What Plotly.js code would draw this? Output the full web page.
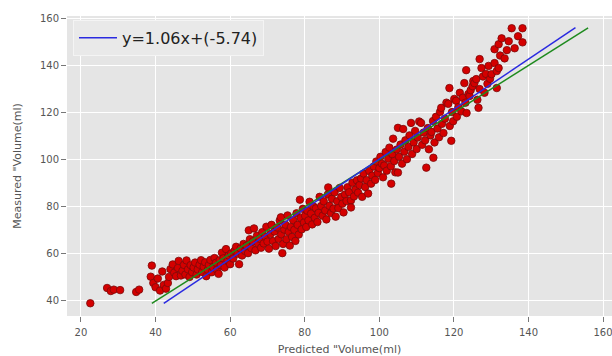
<!DOCTYPE html>
<html>
<head>
<meta charset="utf-8">
<script src="https://cdn.plot.ly/plotly-3.0.1.min.js"></script>
<style>html,body{margin:0;padding:0;background:#fff;}#chart{width:612px;height:356px;}</style>
</head>
<body>
<div id="chart"></div>
<script>
// Predicted volume (x) and measured volume (y)
const predicted = [
 22.5,27,28,28.8,30.5,34.8,35.6,
 39,38.7,39.4,40,40.6,41.2,42.2,42.8,43.3,41.8,43.6,44,
 44.6,45,45.5,46,46.2,46.8,47.2,47.6,48,48.3,48.7,49.1,49.4,49.8,50.2,50.6,51,51.3,51.8,52.2,52.5,52.9,53.3,53.6,54,54.3,54.7,55.1,55.4,55.8,56.2,56.5,56.9,57.2,57.5,57.8,58.2,58.5,58.9,59.3,59.6,60,
 60.3,60.8,61.2,61.6,62,62.4,62.8,63.2,63.6,64,64.4,64.8,65,65.3,65.7,66.1,66.4,66.8,67.2,67.5,67.9,68.3,68.6,69,69.4,69.7,70,
 70.4,70.8,71.1,71.5,71.9,72.2,72.6,73,73.3,73.6,73.7,74,74.2,74.5,74.8,75.1,75.4,75.7,76,76.3,76.6,76.9,77.2,77.5,77.8,78.1,78.4,78.7,78.9,79.2,79.5,79.8,80.1,80.4,
 80.7,81,81.3,81.7,82,82.3,82.7,83,83.4,83.7,84,84.4,84.8,85.1,85.5,85.8,86.2,86.3,86.6,87,87.3,87.7,88,88.3,88.7,89,89.4,89.8,90.1,90.4,
 90.8,91.2,91.5,91.9,92.4,92.4,92.8,93.2,93.6,94,94.3,94.7,95.1,95.4,95.8,96.2,96.6,97,97.3,97.8,98.1,98.5,98.9,99.2,99.6,100,100.3,
 100.7,101,101.3,101.7,102,102.4,102.7,103.1,103.2,103.5,103.7,104,104.3,104.7,105,105,105.3,105.7,106.1,106.4,106.7,107,107.4,107.8,108.1,108.5,108.8,109.2,109.6,110,110.3,
 110.7,111.2,111.5,111.9,112.3,112.6,113,113.3,113.7,114,114.4,114.5,114.8,115.2,115.6,116,116.3,116.6,116.8,117.2,117.6,118,118.5,118.8,118.9,119.3,119.5,119.8,120.1,
 120.6,120.8,121.2,121.6,122,122.4,122.8,123.1,123.4,123.3,123.9,124.2,124.5,125,125.2,125.5,126,126.3,126.6,126.9,126.9,127.4,127.8,128.2,128.6,129,129.3,129.7,130.1,
 130.9,130.9,131.5,131.5,132,132,132.4,132.8,133.6,134.2,134.7,135.5,136.3,137.2,138.4,138.4
];
const measured = [
 39,45.5,44.2,44.8,44.6,43.8,44.8,
 55,50.3,47.6,45.8,49.5,44.4,46.8,45.2,47.6,52.5,50.2,53.5,
 55.5,52,50.5,54,57,50.8,52.8,55.3,51.2,57.2,53.4,50.2,55.2,52.2,54.2,56.3,51.2,53.4,55.4,57.3,52.3,54.5,56.4,50.5,53.2,55.3,57.4,52.2,54.3,58.2,56.2,53.3,51.5,57.3,55.2,60.5,58.1,54.2,62,57.2,59.3,55.6,
 60.2,58,61.3,63,60,55.6,62.3,59.3,64.2,61.2,63.4,60.3,70,66.2,62.4,65.3,70.8,61.5,67.7,64.3,66.4,62.6,69.2,64.4,67.3,71.5,65.2,
 62.2,68.4,72.3,65.4,69.5,63.3,71.2,66.3,74.2,75.5,68.3,60.3,64.2,70.3,72.4,66.2,76.3,69.3,63.5,71.4,67.2,74.3,70.2,65.5,77.2,72.3,68.2,83,75.2,70.4,79.1,73.3,76.2,71.4,
 78.3,74.2,82.1,77.1,72.5,80.2,75.3,79.3,73.5,77.4,84.2,80.3,76.2,82.3,78.4,74.6,85.2,88.2,80.4,77.3,83.4,79.2,86.1,75.8,82.3,79.4,88,84.2,81.3,77.6,
 85.2,82.4,88.3,86.1,82.7,79.7,90.2,84.4,87.3,91.2,86,89.2,92,84.2,94.1,88.4,91.3,85.6,95.2,89.8,93.2,97.1,91.4,99.2,94.3,96.4,101.2,
 98.3,92.5,97.5,103.2,95.3,100.4,105.1,97.2,89.8,102.3,108.9,99.4,94.6,104.3,94.5,113.5,101.2,106.4,98.3,113,103.4,108.2,100.2,105.4,110.3,115.6,102.4,107.3,112.2,104.5,109.4,
 116.2,115.6,106.3,111.5,108.2,96.6,113.4,104.4,110.3,111.8,116.4,100.8,107.3,118.2,113.2,109.5,120.3,122,115.2,111.3,117.4,124.2,123.7,130.4,114.3,108,120.2,116.3,125.8,
 125,118.2,122.3,128.4,120.5,126.3,132.5,124.2,119.8,138,127.9,127,129.5,131.2,133.4,132.5,134.2,125.4,122,130,142.7,138.9,135.3,128.4,136.4,132.2,139.8,134.3,136.3,
 146.9,141,137.6,130.4,138.9,149,144.2,151.5,143,146.5,150.3,155.8,147.3,152.4,155.8,149.8
];
// Identity reference line (green) and fitted line (blue)
const identityX = [39, 156];
const fitX = [42.2, 152.6];
const slope = 1.06, intercept = -5.74;
const fitLabel = 'y=1.06x+(-5.74)';
const xTicks = [20, 40, 60, 80, 100, 120, 140, 160];
const yTicks = [40, 60, 80, 100, 120, 140, 160];

const traces = [
  {x: predicted, y: measured, type: 'scatter', mode: 'markers', showlegend: false,
   marker: {color: '#d40000', size: 7.5, line: {color: '#7a0a0a', width: 0.8}}},
  {x: identityX, y: identityX, type: 'scatter', mode: 'lines', showlegend: false,
   line: {color: '#1e8a1e', width: 1.5}},
  {x: fitX, y: fitX.map(v => slope * v + intercept), type: 'scatter', mode: 'lines', name: fitLabel,
   line: {color: '#2a2ae0', width: 1.5}}
];

const axisCommon = {
  showgrid: true, gridcolor: '#ffffff', gridwidth: 1, zeroline: false, showline: false,
  ticks: 'outside', ticklen: 5, tickcolor: '#777', tickwidth: 1,
  ticklabeloverflow: 'allow',
  tickfont: {family: 'DejaVu Sans', size: 10, color: '#555'}
};

const layout = {
  width: 612, height: 356,
  margin: {l: 67, r: 0, t: 16, b: 40},
  paper_bgcolor: '#ffffff', plot_bgcolor: '#e5e5e5',
  xaxis: Object.assign({}, axisCommon, {
    range: [16.25, 162.4], tickvals: xTicks, ticktext: xTicks.map(String),
    ticklabelstandoff: 2,
    title: {text: 'Predicted "Volume(ml)', font: {family: 'DejaVu Sans', size: 11, color: '#555'}, standoff: 8}
  }),
  yaxis: Object.assign({}, axisCommon, {
    range: [33.6, 161], tickvals: yTicks, ticktext: yTicks.map(String),
    title: {text: 'Measured "Volume(ml)', font: {family: 'DejaVu Sans', size: 11, color: '#555'}, standoff: 16}
  }),
  showlegend: true,
  legend: {x: 0.011, y: 0.987, xanchor: 'left', yanchor: 'top',
    bgcolor: '#e9e9e9', bordercolor: '#f4f4f4', borderwidth: 1,
    itemwidth: 38,
    font: {family: 'DejaVu Sans', size: 16, color: '#222'}}
};

Plotly.newPlot('chart', traces, layout, {displayModeBar: false, staticPlot: true});
</script>
</body>
</html>
